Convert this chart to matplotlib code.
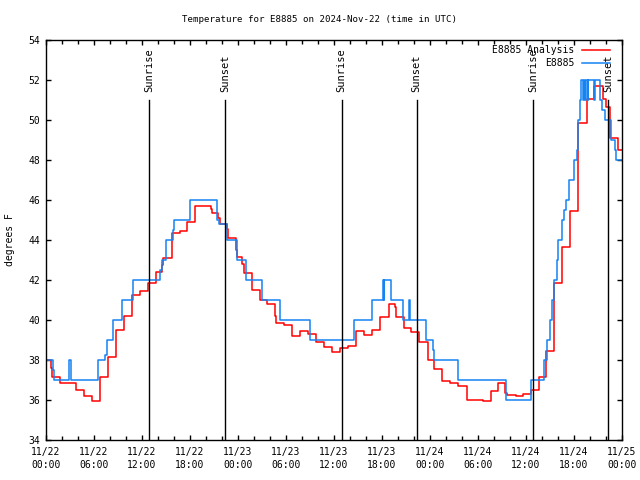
import matplotlib
matplotlib.use("Agg")
import matplotlib.pyplot as plt
from matplotlib.ticker import MultipleLocator

plt.rcParams["font.family"] = "DejaVu Sans Mono"
plt.rcParams["font.size"] = 7

# hours since 2024-11-22 00:00 UTC, step values in degrees F
analysis_hours = [0, 0.67, 0.8, 1.75, 3.75, 4.75, 5.75, 6.7, 7.75, 8.75, 9.8, 10.75,
                  11.8, 12.75, 13.75, 14.5, 14.67, 15.75, 16.75, 17.67, 18.67, 20.6,
                  20.8, 21.45, 21.75, 22.67, 22.75, 23.7, 23.85, 24.5, 24.7, 25.7,
                  26.75, 27.67, 28.6, 28.7, 29.75, 30.75, 31.75, 32.75, 33.75, 34.75,
                  35.8, 36.75, 37.7, 38.8, 39.7, 40.75, 41.8, 42.9, 43.6, 43.8, 44.8,
                  45.6, 46.6, 47.7, 48.5, 49.55, 50.5, 51.5, 52.62, 54.67, 55.65,
                  56.55, 57.4, 57.65, 58.7, 59.67, 60.6, 61.6, 62.5, 63.55, 64.45,
                  65.45, 66.45, 66.54, 67.58, 68.55, 69.6, 69.95, 70.5, 71.45, 72]
analysis_temp = [38, 37.6, 37.17, 36.87, 36.5, 36.2, 35.95, 37.17, 38.17, 39.5, 40.2, 41.25,
                 41.47, 41.83, 42.4, 42.75, 43.08, 44.33, 44.47, 44.92, 45.72, 45.53,
                 45.37, 45.08, 44.78, 44.53, 44.12, 43.5, 43.15, 42.8, 42.35, 41.5,
                 41.0, 40.8, 40.2, 39.83, 39.75, 39.2, 39.45, 39.3, 38.92, 38.63,
                 38.42, 38.58, 38.7, 39.47, 39.25, 39.5, 40.17, 40.78, 40.67, 40.13, 39.58,
                 39.42, 38.9, 38.0, 37.53, 36.95, 36.87, 36.7, 36.0, 35.95, 36.45,
                 36.83, 36.33, 36.25, 36.2, 36.28, 36.5, 37.15, 38.45, 41.85, 43.65,
                 45.45, 47.0, 49.83, 51.05, 51.7, 51.05, 50.67, 49.1, 48.5, 48.5]

obs_hours = [0, 0.875, 1.0, 2.875, 3.17, 6.54, 7.375, 7.67, 8.375, 9.46, 9.54, 10.9,
             14.25, 14.46, 15.0, 15.92, 16.04, 18.0, 21.42, 21.67, 22.67, 23.92, 25.0,
             26.96, 29.3, 33.0, 38.45, 40.8, 42.15, 42.22, 42.3, 43.15, 44.67, 45.35,
             45.45, 47.45, 48.4, 48.55, 51.5, 57.5, 60.6, 62.2, 62.6, 63.0, 63.2,
             63.54, 63.83, 64.04, 64.46, 64.8, 64.96, 65.42, 66.04, 66.33, 66.46,
             66.7, 66.9, 67.15, 67.25, 67.35, 67.5, 67.7, 67.8, 68.5, 68.6, 69.25,
             69.5, 69.9, 70.6, 71.1, 71.2, 72]
obs_temp = [38, 37.5, 37, 38, 37, 38, 38.25, 39, 40, 40.5, 41, 42,
            42.5, 43, 44, 44.5, 45, 46, 45, 44.8, 44, 43, 42,
            41, 40, 39, 40, 41, 42, 41, 42, 41, 40, 41,
            40, 39, 38.5, 38, 37, 36, 37, 38, 39, 40, 41,
            42, 43, 44, 45, 45.5, 46, 47, 48, 48.5, 50,
            51, 52, 51, 52, 51, 52, 51, 52, 51, 52, 51,
            50.5, 50, 49, 48.5, 48, 48]

sun_hours = [12.92, 22.42, 36.96, 46.33, 60.92, 70.29]
sun_labels = ["Sunrise", "Sunset", "Sunrise", "Sunset", "Sunrise", "Sunset"]

tick_hours = [0, 6, 12, 18, 24, 30, 36, 42, 48, 54, 60, 66, 72]
tick_labels = ["11/22\n00:00", "11/22\n06:00", "11/22\n12:00", "11/22\n18:00",
               "11/23\n00:00", "11/23\n06:00", "11/23\n12:00", "11/23\n18:00",
               "11/24\n00:00", "11/24\n06:00", "11/24\n12:00", "11/24\n18:00",
               "11/25\n00:00"]

fig = plt.figure(figsize=(6.4, 4.8), dpi=100)
ax = fig.add_axes([46 / 640, 40 / 480, 576 / 640, 400 / 480])

ax.plot(analysis_hours, analysis_temp, drawstyle="steps-post", color="#ff0000",
        lw=1.1, label="E8885 Analysis")
ax.plot(obs_hours, obs_temp, drawstyle="steps-post", color="#1584f2",
        lw=1.1, label="E8885")

# sunrise / sunset markers
for h, lab in zip(sun_hours, sun_labels):
    ax.plot([h, h], [34, 51], color="black", lw=1)
    ax.text(h, 51.4, lab, rotation=90, ha="center", va="bottom", fontsize=7.5)

ax.set_xlim(0, 72)
ax.set_ylim(34, 54)
ax.set_xticks(tick_hours)
ax.set_xticklabels(tick_labels, linespacing=1.4)
ax.xaxis.set_minor_locator(MultipleLocator(2))
ax.yaxis.set_major_locator(MultipleLocator(2))
ax.tick_params(which="both", direction="in", top=True, right=True, width=1)
ax.tick_params(which="major", length=3.5)
ax.tick_params(which="minor", length=3)
ax.tick_params(axis="x", pad=5)
ax.tick_params(axis="y", pad=4)
for s in ax.spines.values():
    s.set_linewidth(1)

ax.legend(loc="upper right", bbox_to_anchor=((610 - 46) / 576, 1 - 5 / 400),
          frameon=False, markerfirst=False, handlelength=2.9,
          handletextpad=0.8, labelspacing=0.35, borderaxespad=0, borderpad=0,
          fontsize=7)

fig.text(0.5, 1 - 19 / 480, "Temperature for E8885 on 2024-Nov-22 (time in UTC)",
         ha="center", va="center", fontsize=6.6)
fig.text(10 / 640, 0.5, "degrees F", rotation=90, ha="center", va="center")

fig.savefig("out.png", dpi=100)
